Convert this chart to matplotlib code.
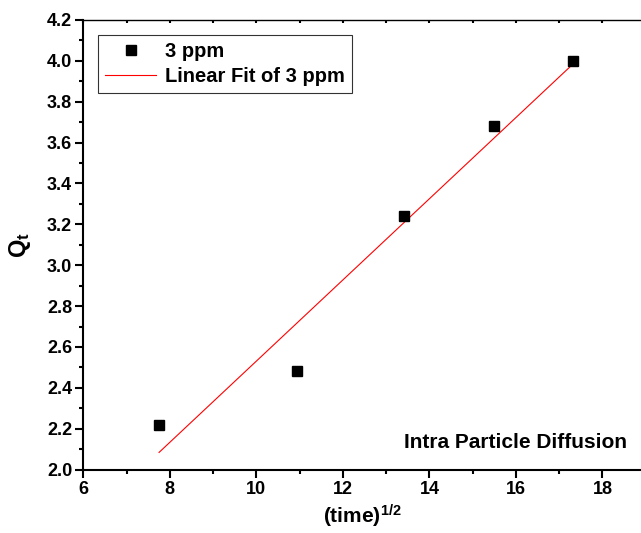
import numpy as np
import matplotlib
matplotlib.use("Agg")
import matplotlib.pyplot as plt
from matplotlib.ticker import MultipleLocator

# data
sqrt_time = [7.75, 10.95, 13.42, 15.49, 17.32]
qt = [2.22, 2.48, 3.24, 3.68, 4.00]
series_name = "3 ppm"
fit_name = "Linear Fit of 3 ppm"
note = "Intra Particle Diffusion"

plt.rcParams['font.family'] = ['Liberation Sans', 'DejaVu Sans']
plt.rcParams['font.weight'] = 'bold'
plt.rcParams['mathtext.fontset'] = 'custom'
plt.rcParams['mathtext.rm'] = 'Liberation Sans:bold'
plt.rcParams['mathtext.bf'] = 'Liberation Sans:bold'
plt.rcParams['mathtext.it'] = 'Liberation Sans:bold'

fig = plt.figure(figsize=(6.41, 5.33), dpi=100)
ax = fig.add_axes([0.130, 0.119, 0.870, 0.8435])

# linear fit of the points
slope, inter = np.polyfit(sqrt_time, qt, 1)
fit_x = np.array([sqrt_time[0], sqrt_time[-1]])
ax.plot(fit_x, slope * fit_x + inter, color='red', lw=0.8, label=fit_name, zorder=2)
ax.plot(sqrt_time, qt, 's', color='black', ms=7, ls='none', label=series_name, zorder=3)

ax.set_xlim(6, 18.89)
ax.set_ylim(2.0, 4.2)
ax.xaxis.set_major_locator(MultipleLocator(2))
ax.xaxis.set_minor_locator(MultipleLocator(1))
ax.yaxis.set_major_locator(MultipleLocator(0.2))
ax.yaxis.set_minor_locator(MultipleLocator(0.1))
ax.yaxis.set_major_formatter(matplotlib.ticker.FormatStrFormatter('%.1f'))

for s in ['left', 'bottom']:
    ax.spines[s].set_linewidth(1.5)
ax.spines['top'].set_linewidth(1.0)
ax.spines['right'].set_visible(False)

ax.tick_params(which='major', direction='out', length=6, width=1.5, labelsize=13, pad=2)
ax.tick_params(which='minor', direction='out', length=3, width=1.5)
ax.tick_params(top=False, right=False)

# small ticks on the top spine
top = ax.secondary_xaxis('top')
top.xaxis.set_major_locator(MultipleLocator(1))
top.tick_params(direction='in', length=2, width=1.5, labeltop=False)
top.spines['top'].set_visible(False)

ax.set_xlabel(r'(time)$^{1/2}$', fontsize=15, fontweight='bold', labelpad=4)
ax.set_ylabel(r'Q$_\mathbf{t}$', fontsize=17, fontweight='bold', labelpad=10)

# legend order: markers first
h, l = ax.get_legend_handles_labels()
leg = ax.legend(h[::-1], l[::-1], loc='upper left', frameon=True,
                fancybox=False, edgecolor='black', borderaxespad=0.75,
                handlelength=2.5, handletextpad=0.45, borderpad=0.35,
                labelspacing=0.3, prop={'weight': 'bold', 'size': 14.5})
leg.get_frame().set_linewidth(0.8)

ax.text(0.975, 0.048, note, transform=ax.transAxes, ha='right', va='baseline',
        fontsize=15, fontweight='bold')

fig.savefig('out.png', dpi=100)
